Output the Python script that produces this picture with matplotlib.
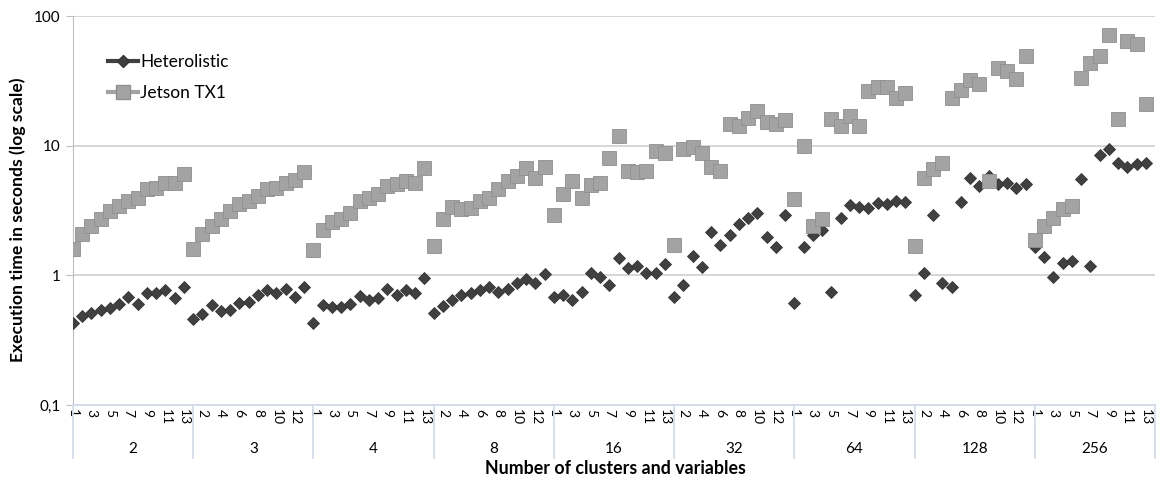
import numpy as np
import matplotlib
matplotlib.use("Agg")
import matplotlib.pyplot as plt
from matplotlib.ticker import FixedLocator, NullLocator
from matplotlib.lines import Line2D

# ************************ DONNEES **************************

clusters = ["2", "3", "4", "8", "16", "32", "64", "128", "256"]
n_vars = 13

heterolistic = [
    0.43, 0.49, 0.51, 0.54, 0.56, 0.60, 0.68, 0.60, 0.73, 0.73, 0.77, 0.67, 0.81,   # 2
    0.46, 0.50, 0.59, 0.53, 0.54, 0.61, 0.62, 0.70, 0.77, 0.73, 0.78, 0.68, 0.81,   # 3
    0.43, 0.59, 0.57, 0.57, 0.60, 0.69, 0.64, 0.67, 0.79, 0.71, 0.77, 0.73, 0.95,   # 4
    0.51, 0.58, 0.64, 0.70, 0.73, 0.77, 0.81, 0.75, 0.78, 0.87, 0.93, 0.88, 1.02,   # 8
    0.68, 0.71, 0.65, 0.75, 1.05, 0.97, 0.84, 1.35, 1.13, 1.17, 1.04, 1.04, 1.22,   # 16
    0.68, 0.84, 1.40, 1.15, 2.14, 1.70, 2.03, 2.51, 2.79, 3.05, 1.99, 1.64, 2.90,   # 32
    0.61, 1.64, 2.03, 2.22, 0.74, 2.79, 3.51, 3.39, 3.28, 3.64, 3.57, 3.77, 3.71,   # 64
    0.70, 1.05, 2.94, 0.87, 0.82, 3.71, 5.67, 4.92, 5.88, 5.10, 5.19, 4.75, 5.10,   # 128
    1.64, 1.38, 0.97, 1.24, 1.30, 5.50, 1.19, 8.40, 9.50, 7.40, 6.90, 7.25, 7.30,   # 256
]

jetson = [
    1.61, 2.10, 2.42, 2.74, 3.16, 3.40, 3.77, 3.98, 4.67, 4.75, 5.19, 5.19, 6.10,   # 2
    1.61, 2.10, 2.42, 2.74, 3.16, 3.57, 3.77, 4.10, 4.67, 4.75, 5.19, 5.40, 6.30,   # 3
    1.58, 2.22, 2.56, 2.74, 3.00, 3.77, 3.98, 4.27, 4.92, 5.10, 5.38, 5.19, 6.77,   # 4
    1.67, 2.74, 3.34, 3.22, 3.28, 3.77, 3.98, 4.67, 5.38, 5.88, 6.77, 5.67, 6.89,   # 8
    2.90, 4.27, 5.38, 3.98, 5.01, 5.19, 8.09, 11.9, 6.42, 6.30, 6.42, 9.16, 8.84,   # 16
    1.70, 9.50, 9.70, 8.84, 6.90, 6.42, 14.8, 14.3, 16.4, 18.6, 15.3, 14.8, 15.9,   # 32
    3.91, 10.0, 2.42, 2.74, 16.1, 14.3, 17.0, 14.3, 26.5, 28.5, 28.5, 23.4, 25.6,   # 64
    1.67, 5.67, 6.65, 7.40, 23.4, 27.0, 32.0, 30.0, 5.38, 39.8, 37.8, 32.6, 49.0,   # 128
    1.86, 2.42, 2.79, 3.22, 3.45, 33.0, 43.5, 49.0, 71.4, 16.1, 64.0, 60.8, 21.0,   # 256
]

yticks = [0.1, 1, 10, 100]
ytick_labels = ["0,1", "1", "10", "100"]

# ******************************** FIGURE *******************************

plt.rcParams["font.family"] = ["Lato", "DejaVu Sans"]

fig = plt.figure(figsize=(11.57, 4.82), dpi=100)
ax = fig.add_axes([73 / 1157, 1 - 405 / 482, (1155 - 73) / 1157, (405 - 16) / 482])

x = np.arange(len(heterolistic))

ax.plot(x, heterolistic, linestyle="none", marker="D", ms=6.6,
        color="#404040", mec="#353535", mew=0.6, label="Heterolistic", zorder=3)
ax.plot(x, jetson, linestyle="none", marker="s", ms=9.6,
        color="#a3a3a3", mec="#8f8f8f", mew=0.6, label="Jetson TX1", zorder=4)

ax.set_yscale("log")
ax.set_ylim(0.1, 100)
ax.set_xlim(0, len(clusters) * n_vars)
ax.yaxis.set_major_locator(FixedLocator(yticks))
ax.set_yticklabels(ytick_labels)
ax.yaxis.set_minor_locator(NullLocator())
ax.tick_params(axis="y", length=5, color="#bfbfbf", labelsize=11, pad=4)
ax.grid(axis="y", color="#cfcfcf", linewidth=1.2)
ax.set_axisbelow(True)

for s in ["top", "right"]:
    ax.spines[s].set_visible(False)
ax.spines["left"].set_color("#bfbfbf")
ax.spines["bottom"].set_color("#d3dcea")
ax.spines["bottom"].set_linewidth(1.3)

# etiquettes des variables (une sur deux, comme Excel)
var_labels = [str(v) for g in range(len(clusters)) for v in range(1, n_vars + 1)]
ax.xaxis.set_major_locator(FixedLocator(x[::2]))
ax.set_xticklabels(var_labels[::2], rotation=270, fontsize=10, va="top", ha="center")
ax.xaxis.set_minor_locator(NullLocator())
ax.tick_params(axis="x", length=0, pad=3)

# separateurs et noms des groupes
trans = ax.get_xaxis_transform()
for g in range(len(clusters) + 1):
    ax.plot([g * n_vars, g * n_vars], [0, -0.135], transform=trans,
            color="#d3dcea", linewidth=1.3, clip_on=False)
for g, name in enumerate(clusters):
    ax.text(g * n_vars + n_vars / 2, -0.114, name, transform=trans,
            ha="center", va="center", fontsize=11)

fig.text(615 / 1157, 1 - 468 / 482, "Number of clusters and variables",
         ha="center", va="center", fontsize=12.8, fontweight="bold")
fig.text(18 / 1157, 1 - 220 / 482, "Execution time in seconds (log scale)",
         rotation=90, ha="center", va="center", fontsize=12.6, fontweight="bold")

# legende avec ligne + marqueur
handles = [
    Line2D([], [], color="#404040", lw=3, marker="D", ms=6.6, mec="#353535"),
    Line2D([], [], color="#a3a3a3", lw=3, marker="s", ms=9.6, mec="#8f8f8f"),
]
ax.legend(handles, ["Heterolistic", "Jetson TX1"], loc="upper left",
          bbox_to_anchor=((108 - 73) / 1082, (405 - 54) / 389), frameon=False,
          fontsize=12.5, handlelength=1.7, handletextpad=0.15, labelspacing=0.85,
          borderpad=0, borderaxespad=0)

plt.savefig("out.png", dpi=100)
